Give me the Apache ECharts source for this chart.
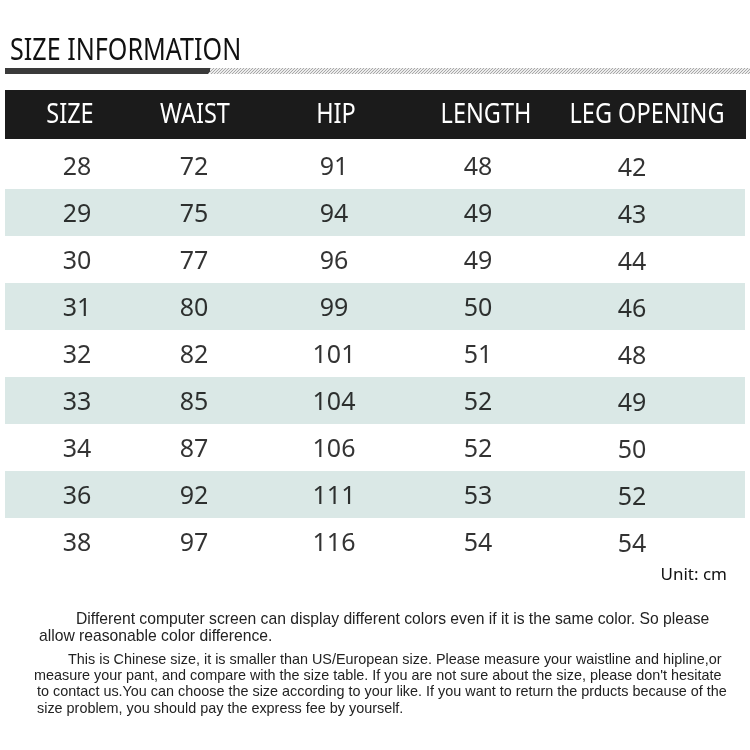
<!DOCTYPE html>
<html>
<head>
<meta charset="utf-8">
<script src="https://cdn.jsdelivr.net/npm/echarts@6/dist/echarts.min.js"></script>
<style>
  html, body { margin: 0; padding: 0; background: #fff; }
  #main { width: 750px; height: 750px; }
</style>
</head>
<body>
<div id="main"></div>
<script>
// size table data
const headers = ['SIZE', 'WAIST', 'HIP', 'LENGTH', 'LEG OPENING'];
const sizes = ['28', '29', '30', '31', '32', '33', '34', '36', '38'];
const waist = [72, 75, 77, 80, 82, 85, 87, 92, 97];
const hip = [91, 94, 96, 99, 101, 104, 106, 111, 116];
const lengths = [48, 49, 49, 50, 51, 52, 52, 53, 54];
const legOpening = [42, 43, 44, 46, 48, 49, 50, 52, 54];

// layout (pixels from the grid's left edge)
const colX = [72, 189, 329, 473, 627];
const headX = [70, 195, 336, 486, 647];

const narrow = "'Liberation Sans Narrow', 'Noto Sans', sans-serif";
const numFont = "'Noto Sans', 'Open Sans', sans-serif";
const bodyFont = "'Liberation Sans', sans-serif";

// little hatch tile for the title rule
function hatch() {
    let c = document.createElement('canvas');
    c.width = 3; c.height = 3;
    let g = c.getContext('2d');
    g.fillStyle = '#ececec';
    g.fillRect(0, 0, 3, 3);
    g.strokeStyle = '#a8a8a8';
    g.lineWidth = 1;
    g.beginPath();
    g.moveTo(0, 3); g.lineTo(3, 0);
    g.stroke();
    return c;
}

function colSeries(values, idx) {
    return {
        name: headers[idx],
        type: 'scatter',
        symbolSize: 1,
        itemStyle: { color: 'transparent' },
        label: {
            show: true,
            position: 'inside',
            offset: [0, idx === 4 ? 3 : 2],
            color: '#000',
            fontSize: 25,
            fontFamily: numFont,
            formatter: p => p.value[2]
        },
        data: values.map((v, i) => [colX[idx], sizes[i], v])
    };
}

function note(text, x, y, size) {
    return {
        type: 'text', x: x, y: y,
        style: { text: text, fill: '#222', font: size + 'px ' + bodyFont, textVerticalAlign: 'middle' }
    };
}

let myChart = echarts.init(document.getElementById('main'));
myChart.setOption({
    backgroundColor: '#ffffff',
    animation: false,
    grid: { left: 5, right: 5, top: 142, height: 423 },
    xAxis: { type: 'value', min: 0, max: 740, show: false },
    yAxis: {
        type: 'category',
        data: sizes,
        inverse: true,
        axisLine: { show: false },
        axisTick: { show: false },
        axisLabel: { show: false },
        splitLine: { show: false },
        splitArea: { show: true, areaStyle: { color: ['#ffffff', '#dae8e6'] } }
    },
    series: [
        colSeries(sizes, 0),
        colSeries(waist, 1),
        colSeries(hip, 2),
        colSeries(lengths, 3),
        colSeries(legOpening, 4)
    ],
    graphic: [
        {
            type: 'text', x: 10, y: 51, scaleX: 0.81,
            style: { text: 'SIZE INFORMATION', fill: '#111', font: '31px ' + narrow, textVerticalAlign: 'middle' }
        },
        {
            type: 'polygon',
            shape: { points: [[5, 68], [213, 68], [208, 74], [5, 74]] },
            style: { fill: '#3a3a3a' }
        },
        {
            type: 'rect',
            shape: { x: 210, y: 68, width: 540, height: 6 },
            style: { fill: { image: hatch(), repeat: 'repeat' } }
        },
        {
            type: 'rect',
            shape: { x: 5, y: 90, width: 741, height: 49 },
            style: { fill: '#1b1b1b' }
        },
        ...headers.map((h, i) => ({
            type: 'text',
            x: headX[i], y: 115, scaleX: 0.87,
            style: {
                text: h, fill: '#ffffff', font: '27px ' + narrow,
                textAlign: 'center', textVerticalAlign: 'middle'
            }
        })),
        {
            type: 'text', x: 727, y: 575,
            style: {
                text: 'Unit: cm', fill: '#111', font: '17px ' + numFont,
                textAlign: 'right', textVerticalAlign: 'middle'
            }
        },
        note('Different computer screen can display different colors even if it is the same color. So please', 76, 620, 15.7),
        note('allow reasonable color difference.', 39, 637, 15.7),
        note('This is Chinese size, it is smaller than US/European size. Please measure your waistline and hipline,or', 68, 660, 14.4),
        note("measure your pant, and compare with the size table. If you are not sure about the size, please don't hesitate", 34, 676, 14.4),
        note('to contact us.You can choose the size according to your like. If you want to return the prducts because of the', 37, 692, 14.4),
        note('size problem, you should pay the express fee by yourself.', 37, 709, 14.4)
    ]
});
</script>
</body>
</html>
